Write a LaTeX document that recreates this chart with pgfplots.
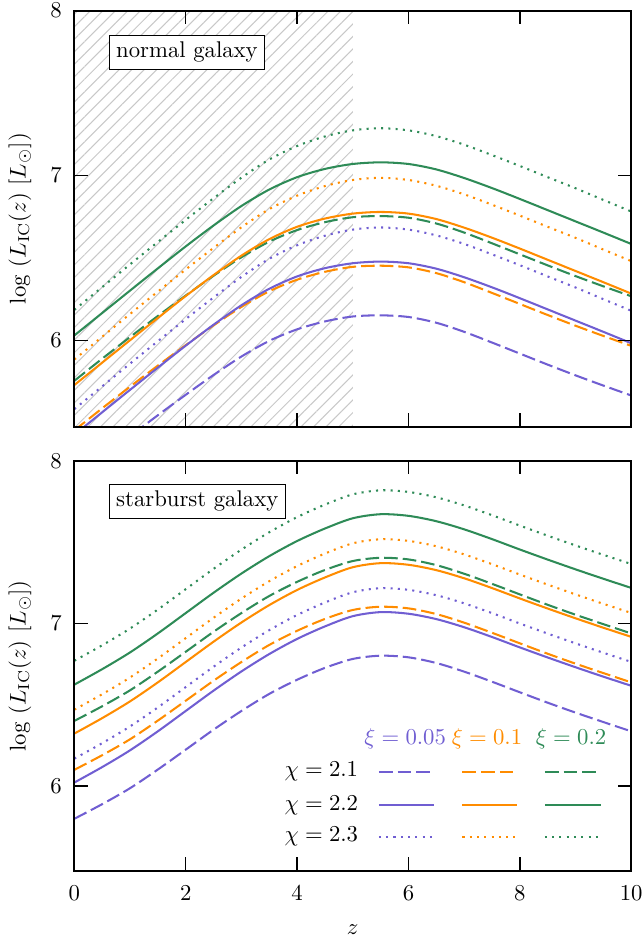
\documentclass[border=0pt]{standalone}
\usepackage{pgfplots}
\usepackage{pgfplotstable}
\pgfplotsset{compat=1.18}
\usetikzlibrary{patterns.meta}
\definecolor{cpur}{HTML}{705ED2}
\definecolor{corg}{HTML}{FF8C00}
\definecolor{cgrn}{HTML}{2E8B57}
\definecolor{hatch}{HTML}{C8C8C8}

\pgfplotstableread{
z    a21g  a21o  a21p  a22g  a22o  a22p  a23g  a23o  a23p
0    5.755 5.454 5.153 6.030 5.729 5.428 6.185 5.884 5.583
0.5  5.889 5.588 5.287 6.166 5.865 5.564 6.323 6.022 5.721
1    6.020 5.719 5.418 6.302 6.001 5.700 6.461 6.160 5.859
1.5  6.148 5.847 5.546 6.437 6.136 5.835 6.597 6.296 5.995
2    6.272 5.971 5.670 6.570 6.269 5.968 6.731 6.430 6.129
2.5  6.392 6.091 5.790 6.697 6.396 6.095 6.862 6.561 6.260
3    6.504 6.203 5.902 6.815 6.514 6.213 6.987 6.686 6.385
3.5  6.599 6.298 5.997 6.915 6.614 6.313 7.097 6.796 6.495
4    6.669 6.368 6.067 6.990 6.689 6.388 7.179 6.878 6.577
4.5  6.717 6.416 6.115 7.040 6.739 6.438 7.237 6.936 6.635
5    6.747 6.446 6.145 7.070 6.769 6.468 7.274 6.973 6.672
5.5  6.754 6.453 6.152 7.080 6.779 6.478 7.287 6.986 6.685
6    6.744 6.443 6.142 7.070 6.769 6.468 7.274 6.973 6.672
6.5  6.709 6.408 6.107 7.037 6.736 6.435 7.239 6.938 6.637
7    6.654 6.353 6.052 6.985 6.684 6.383 7.187 6.886 6.585
7.5  6.589 6.288 5.987 6.924 6.623 6.322 7.124 6.823 6.522
8    6.522 6.221 5.920 6.858 6.557 6.256 7.058 6.757 6.456
8.5  6.455 6.154 5.853 6.790 6.489 6.188 6.990 6.689 6.388
9    6.390 6.089 5.788 6.722 6.421 6.120 6.923 6.622 6.321
9.5  6.328 6.027 5.726 6.654 6.353 6.052 6.852 6.551 6.250
10   6.268 5.967 5.666 6.585 6.284 5.983 6.782 6.481 6.180
}\toptab

\pgfplotstableread{
z    b21g  b21o  b21p  b22g  b22o  b22p  b23g  b23o  b23p
0    6.400 6.099 5.798 6.623 6.322 6.021 6.770 6.469 6.168
0.5  6.490 6.189 5.888 6.718 6.417 6.116 6.865 6.564 6.263
1    6.588 6.287 5.986 6.821 6.520 6.219 6.968 6.667 6.366
1.5  6.703 6.402 6.101 6.938 6.637 6.336 7.085 6.784 6.483
2    6.825 6.524 6.223 7.063 6.762 6.461 7.210 6.909 6.608
2.5  6.948 6.647 6.346 7.188 6.887 6.586 7.335 7.034 6.733
3    7.063 6.762 6.461 7.306 7.005 6.704 7.453 7.152 6.851
3.5  7.168 6.867 6.566 7.413 7.112 6.811 7.560 7.259 6.958
4    7.255 6.954 6.653 7.506 7.205 6.904 7.653 7.352 7.051
4.5  7.328 7.027 6.726 7.583 7.282 6.981 7.730 7.429 7.128
5    7.383 7.082 6.781 7.646 7.345 7.044 7.793 7.492 7.191
5.5  7.403 7.102 6.801 7.671 7.370 7.069 7.818 7.517 7.216
6    7.393 7.092 6.791 7.661 7.360 7.059 7.808 7.507 7.206
6.5  7.358 7.057 6.756 7.628 7.327 7.026 7.775 7.474 7.173
7    7.305 7.004 6.703 7.578 7.277 6.976 7.725 7.424 7.123
7.5  7.243 6.942 6.641 7.518 7.217 6.916 7.665 7.364 7.063
8    7.178 6.877 6.576 7.454 7.153 6.852 7.601 7.300 6.999
8.5  7.114 6.813 6.512 7.392 7.091 6.790 7.539 7.238 6.937
9    7.053 6.752 6.451 7.332 7.031 6.730 7.479 7.178 6.877
9.5  6.995 6.694 6.393 7.274 6.973 6.672 7.421 7.120 6.819
10   6.938 6.637 6.336 7.218 6.917 6.616 7.365 7.064 6.763
}\bottab

\tikzset{
  dashsty/.style={line width=0.9pt, dash pattern=on 6pt off 2.2pt},
  solsty/.style={line width=0.9pt, solid},
  dotsty/.style={line width=0.9pt, dash pattern=on 0.9pt off 2.3pt},
}
\pgfplotsset{
  panel/.style={
    scale only axis, width=245pt,
    xmin=0, xmax=10, ymin=5.477, ymax=8,
    xtick={0,2,...,10}, ytick={6,7,8},
    tick align=inside, major tick length=6pt,
    minor tick num=0,
    axis on top,
    axis line style={line width=0.8pt},
    tick style={line width=0.6pt, black},
    xticklabel style={yshift=-3pt},
    yticklabel style={xshift=-2pt},
    ylabel={$\log\,\left(L_{\mathrm{IC}}(z)\ [L_\odot]\right)$},
    ylabel style={at={(axis description cs:-0.0975,0.5)}, anchor=center},
    clip=true,
  },
}

\begin{document}
\begin{tikzpicture}
% bottom panel
\begin{axis}[panel, height=180.5pt, at={(0pt,0pt)}, anchor=south west,
  xlabel={$z$},
  xlabel style={at={(axis description cs:0.5,-0.144)}, anchor=center}]
\addplot[cpur, dashsty, smooth] table[x=z, y=b21p] {\bottab};
\addplot[corg, dashsty, smooth] table[x=z, y=b21o] {\bottab};
\addplot[cgrn, dashsty, smooth] table[x=z, y=b21g] {\bottab};
\addplot[cpur, solsty, smooth] table[x=z, y=b22p] {\bottab};
\addplot[corg, solsty, smooth] table[x=z, y=b22o] {\bottab};
\addplot[cgrn, solsty, smooth] table[x=z, y=b22g] {\bottab};
\addplot[cpur, dotsty, smooth] table[x=z, y=b23p] {\bottab};
\addplot[corg, dotsty, smooth] table[x=z, y=b23o] {\bottab};
\addplot[cgrn, dotsty, smooth] table[x=z, y=b23g] {\bottab};
\node[draw, line width=0.5pt, fill=white, anchor=west, inner sep=3pt] at (axis cs:0.62,7.75) {starburst galaxy};
% legend
\node[cpur] at (axis cs:5.94,6.288) {$\xi = 0.05$};
\node[corg] at (axis cs:7.41,6.288) {$\xi = 0.1$};
\node[cgrn] at (axis cs:8.92,6.288) {$\xi = 0.2$};
\node[anchor=east] at (axis cs:5.24,6.087) {$\chi = 2.1$};
\node[anchor=east] at (axis cs:5.24,5.882) {$\chi = 2.2$};
\node[anchor=east] at (axis cs:5.24,5.688) {$\chi = 2.3$};
\draw[cpur, dashsty] (axis cs:5.47,6.087) -- (axis cs:6.46,6.087);
\draw[corg, dashsty] (axis cs:6.97,6.087) -- (axis cs:7.95,6.087);
\draw[cgrn, dashsty] (axis cs:8.45,6.087) -- (axis cs:9.45,6.087);
\draw[cpur, solsty] (axis cs:5.47,5.882) -- (axis cs:6.46,5.882);
\draw[corg, solsty] (axis cs:6.97,5.882) -- (axis cs:7.95,5.882);
\draw[cgrn, solsty] (axis cs:8.45,5.882) -- (axis cs:9.45,5.882);
\draw[cpur, dotsty] (axis cs:5.47,5.688) -- (axis cs:6.46,5.688);
\draw[corg, dotsty] (axis cs:6.97,5.688) -- (axis cs:7.95,5.688);
\draw[cgrn, dotsty] (axis cs:8.45,5.688) -- (axis cs:9.45,5.688);
\end{axis}
% top panel
\begin{axis}[panel, height=183pt, at={(0pt,195.5pt)}, anchor=south west,
  xticklabels={}]
\addplot[draw=none, pattern={Lines[angle=45, distance=3.9pt, line width=0.45pt]}, pattern color=hatch]
  coordinates {(0,5.3) (0,8.2) (5,8.2) (5,5.3)} -- cycle;
\addplot[cpur, dashsty, smooth] table[x=z, y=a21p] {\toptab};
\addplot[corg, dashsty, smooth] table[x=z, y=a21o] {\toptab};
\addplot[cgrn, dashsty, smooth] table[x=z, y=a21g] {\toptab};
\addplot[cpur, solsty, smooth] table[x=z, y=a22p] {\toptab};
\addplot[corg, solsty, smooth] table[x=z, y=a22o] {\toptab};
\addplot[cgrn, solsty, smooth] table[x=z, y=a22g] {\toptab};
\addplot[cpur, dotsty, smooth] table[x=z, y=a23p] {\toptab};
\addplot[corg, dotsty, smooth] table[x=z, y=a23o] {\toptab};
\addplot[cgrn, dotsty, smooth] table[x=z, y=a23g] {\toptab};
\node[draw, line width=0.5pt, fill=white, anchor=west, inner sep=3pt] at (axis cs:0.62,7.748) {normal galaxy};
\end{axis}
\pgfresetboundingbox
\useasboundingbox (-32.7pt,-30.8pt) rectangle (249.8pt,383.2pt);
\end{tikzpicture}
\end{document}
